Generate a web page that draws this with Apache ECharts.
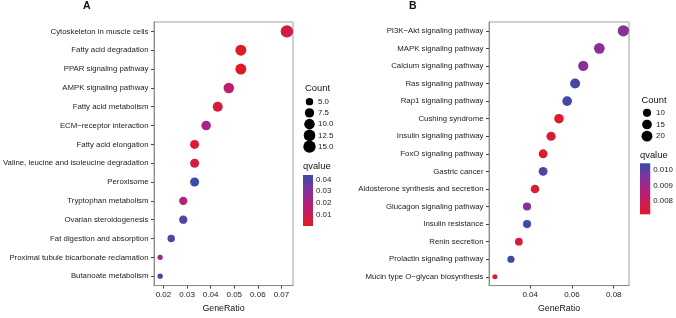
<!DOCTYPE html>
<html>
<head>
<meta charset="utf-8">
<style>
  html, body { margin: 0; padding: 0; background: #fff; }
  #main { width: 676px; height: 318px; }
</style>
<script src="https://cdn.jsdelivr.net/npm/echarts@6/dist/echarts.min.js"></script>
</head>
<body>
<div id="main"></div>
<script>
// panel A
var catsA = ['Cytoskeleton in muscle cells', 'Fatty acid degradation', 'PPAR signaling pathway',
  'AMPK signaling pathway', 'Fatty acid metabolism', 'ECM\u2212receptor interaction',
  'Fatty acid elongation', 'Valine, leucine and isoleucine degradation', 'Peroxisome',
  'Tryptophan metabolism', 'Ovarian steroidogenesis', 'Fat digestion and absorption',
  'Proximal tubule bicarbonate reclamation', 'Butanoate metabolism'];
var ratioA = [0.0723, 0.0528, 0.0528, 0.0477, 0.0430, 0.0381, 0.0332, 0.0332, 0.0332, 0.0284, 0.0284, 0.0233, 0.0186, 0.0186];
var countA = [15, 11, 11, 10, 9, 8, 7, 7, 7, 6, 6, 5, 4, 4];
var qA = [0.0068, 0.0003, 0.0012, 0.016, 0.004, 0.022, 0.003, 0.0047, 0.0437, 0.020, 0.041, 0.040, 0.024, 0.042];
var xTicksA = [0.02, 0.03, 0.04, 0.05, 0.06, 0.07];
var sizeTicksA = [5, 7.5, 10, 12.5, 15];
var qTicksA = [0.01, 0.02, 0.03, 0.04];

// panel B
var catsB = ['PI3K\u2212Akt signaling pathway', 'MAPK signaling pathway', 'Calcium signaling pathway',
  'Ras signaling pathway', 'Rap1 signaling pathway', 'Cushing syndrome', 'Insulin signaling pathway',
  'FoxO signaling pathway', 'Gastric cancer', 'Aldosterone synthesis and secretion',
  'Glucagon signaling pathway', 'Insulin resistance', 'Renin secretion',
  'Prolactin signaling pathway', 'Mucin type O\u2212glycan biosynthesis'];
var ratioB = [0.0846, 0.0731, 0.0654, 0.0615, 0.0577, 0.0538, 0.0500, 0.0462, 0.0462, 0.0423, 0.0385, 0.0385, 0.0346, 0.0308, 0.0231];
var countB = [22, 19, 17, 16, 15, 14, 13, 12, 12, 11, 10, 10, 9, 8, 6];
var qB = [0.0094, 0.0093, 0.0094, 0.0103, 0.0103, 0.0072, 0.0073, 0.0072, 0.0102, 0.0073, 0.0094, 0.0103, 0.0074, 0.01044, 0.00711];
var xTicksB = [0.04, 0.06, 0.08];
var sizeTicksB = [10, 15, 20];
var qTicksB = [0.008, 0.009, 0.010];

// red (low) -> blue (high)
var qColors = ['#DD1C26', '#C81D5A', '#A92486', '#7A369F', '#3B4BA6'];

var FONT = '"Liberation Sans", Arial, sans-serif';
var minA = Math.min.apply(null, countA), maxA = Math.max.apply(null, countA);
var minB = Math.min.apply(null, countB), maxB = Math.max.apply(null, countB);
var qMinA = Math.min.apply(null, qA), qMaxA = Math.max.apply(null, qA);
var qMinB = Math.min.apply(null, qB), qMaxB = Math.max.apply(null, qB);

// ggplot-like area scale
function dotSize(n, lo, hi, nmin, nmax) {
  var s = 1 + 5 * Math.sqrt(Math.max(0, (n - nmin) / (nmax - nmin)));
  var pt = 2.845 * s + 0.945;
  return lo + (hi - lo) * (pt - 3.79) / (18.0 - 3.79);
}
function sizeA(n) { return dotSize(n, 5.3, 12.4, minA, maxA); }
function sizeB(n) { return dotSize(n, 5.0, 11.3, minB, maxB); }

function plotX(grid, mn, mx, ticks) {
  return {
    gridIndex: grid, type: 'value', min: mn, max: mx,
    name: 'GeneRatio', nameLocation: 'middle', nameGap: 16,
    nameTextStyle: { fontSize: 8.8, color: '#111', fontFamily: FONT },
    axisLine: { show: true, lineStyle: { color: '#8c8c8c' } },
    axisTick: { show: true, length: 3, customValues: ticks, lineStyle: { color: '#444' } },
    axisLabel: { customValues: ticks, margin: 5.5, fontSize: 8, color: '#222', fontFamily: FONT,
      formatter: function (v) { return v.toFixed(2); } },
    splitLine: { show: false }
  };
}
function plotY(grid, cats) {
  return {
    gridIndex: grid, type: 'category', data: cats, inverse: true,
    axisLine: { show: true, lineStyle: { color: '#8c8c8c' } },
    axisTick: { show: true, length: 3, alignWithLabel: true, lineStyle: { color: '#444' } },
    axisLabel: { margin: 5.5, fontSize: 7.8, color: '#222', fontFamily: FONT, interval: 0 },
    splitLine: { show: false }
  };
}
function hiddenX(grid, mn, mx) {
  return { gridIndex: grid, type: 'value', min: mn, max: mx, show: false };
}
function sizeLegendY(grid, labels) {
  return {
    gridIndex: grid, type: 'category', data: labels, inverse: true, position: 'right',
    axisLine: { show: false }, axisTick: { show: false },
    axisLabel: { margin: 4, fontSize: 7.9, color: '#222', fontFamily: FONT }
  };
}
function barY(grid, mn, mx, ticks, digits) {
  return {
    gridIndex: grid, type: 'value', min: mn, max: mx, position: 'right',
    axisLine: { show: false },
    axisTick: { show: true, inside: true, length: 2, customValues: ticks, lineStyle: { color: '#fff' } },
    axisLabel: { customValues: ticks, margin: 3, fontSize: 7.9, color: '#222', fontFamily: FONT,
      formatter: function (v) { return v.toFixed(digits); } },
    splitLine: { show: false }
  };
}
function colorBar(axis) {
  return {
    type: 'custom', xAxisIndex: axis, yAxisIndex: axis, silent: true,
    encode: { x: [0, 2], y: [1, 3] },
    renderItem: function (params, api) {
      var p0 = api.coord([api.value(0), api.value(1)]);
      var p1 = api.coord([api.value(2), api.value(3)]);
      var stops = qColors.map(function (c, i) { return { offset: i / (qColors.length - 1), color: c }; });
      return {
        type: 'rect',
        shape: { x: p0[0], y: p1[1], width: p1[0] - p0[0], height: p0[1] - p1[1] },
        style: { fill: new echarts.graphic.LinearGradient(0, 1, 0, 0, stops) }
      };
    }
  };
}

var chart = echarts.init(document.getElementById('main'));
chart.setOption({
  animation: false,
  grid: [
    { left: 152, top: 22, width: 141, height: 270, show: true, borderColor: '#a0a0a0', borderWidth: 1 },
    { left: 489, top: 22, width: 140, height: 271, show: true, borderColor: '#a0a0a0', borderWidth: 1 },
    { left: 305, top: 96, width: 9, height: 56.25 },
    { left: 642, top: 107, width: 10, height: 35 },
    { left: 303, top: 175, width: 10, height: 51 },
    { left: 640, top: 163.3, width: 10.5, height: 51 }
  ],
  xAxis: [
    plotX(0, 0.016, 0.0749, xTicksA),
    plotX(1, 0.0203, 0.0873, xTicksB),
    hiddenX(2, -1, 1), hiddenX(3, -1, 1),
    hiddenX(4, 0, 1), hiddenX(5, 0, 1)
  ],
  yAxis: [
    plotY(0, catsA),
    plotY(1, catsB),
    sizeLegendY(2, sizeTicksA.map(function (v) { return v.toFixed(1); })),
    sizeLegendY(3, sizeTicksB.map(function (v) { return String(v); })),
    barY(4, qMinA, qMaxA, qTicksA, 2),
    barY(5, qMinB, qMaxB, qTicksB, 3)
  ],
  visualMap: [
    { type: 'continuous', show: false, seriesIndex: 0, dimension: 3, min: qMinA, max: qMaxA, inRange: { color: qColors } },
    { type: 'continuous', show: false, seriesIndex: 1, dimension: 3, min: qMinB, max: qMaxB, inRange: { color: qColors } }
  ],
  series: [
    {
      type: 'scatter', xAxisIndex: 0, yAxisIndex: 0,
      data: catsA.map(function (c, i) { return [ratioA[i], i, countA[i], qA[i]]; }),
      symbolSize: function (v) { return sizeA(v[2]); },
      itemStyle: { opacity: 1 }
    },
    {
      type: 'scatter', xAxisIndex: 1, yAxisIndex: 1,
      data: catsB.map(function (c, i) { return [ratioB[i], i, countB[i], qB[i]]; }),
      symbolSize: function (v) { return sizeB(v[2]); },
      itemStyle: { opacity: 1 }
    },
    {
      type: 'scatter', xAxisIndex: 2, yAxisIndex: 2,
      data: sizeTicksA.map(function (v, i) { return [0, i, v]; }),
      symbolSize: function (v) { return sizeA(v[2]); },
      itemStyle: { color: '#000', opacity: 1 }
    },
    {
      type: 'scatter', xAxisIndex: 3, yAxisIndex: 3,
      data: sizeTicksB.map(function (v, i) { return [0, i, v]; }),
      symbolSize: function (v) { return sizeB(v[2]); },
      itemStyle: { color: '#000', opacity: 1 }
    },
    Object.assign(colorBar(4), { data: [[0, qMinA, 1, qMaxA]] }),
    Object.assign(colorBar(5), { data: [[0, qMinB, 1, qMaxB]] })
  ],
  graphic: [
    { type: 'text', left: 83, top: 1, style: { text: 'A', font: 'bold 10.5px ' + FONT, fill: '#111' } },
    { type: 'text', left: 409, top: 1, style: { text: 'B', font: 'bold 10.5px ' + FONT, fill: '#111' } },
    { type: 'text', left: 305, top: 84, style: { text: 'Count', font: '9.4px ' + FONT, fill: '#111' } },
    { type: 'text', left: 303, top: 161.5, style: { text: 'qvalue', font: '9.4px ' + FONT, fill: '#111' } },
    { type: 'text', left: 641.5, top: 95.5, style: { text: 'Count', font: '9.4px ' + FONT, fill: '#111' } },
    { type: 'text', left: 640, top: 150.5, style: { text: 'qvalue', font: '9.4px ' + FONT, fill: '#111' } }
  ]
});
</script>
</body>
</html>
